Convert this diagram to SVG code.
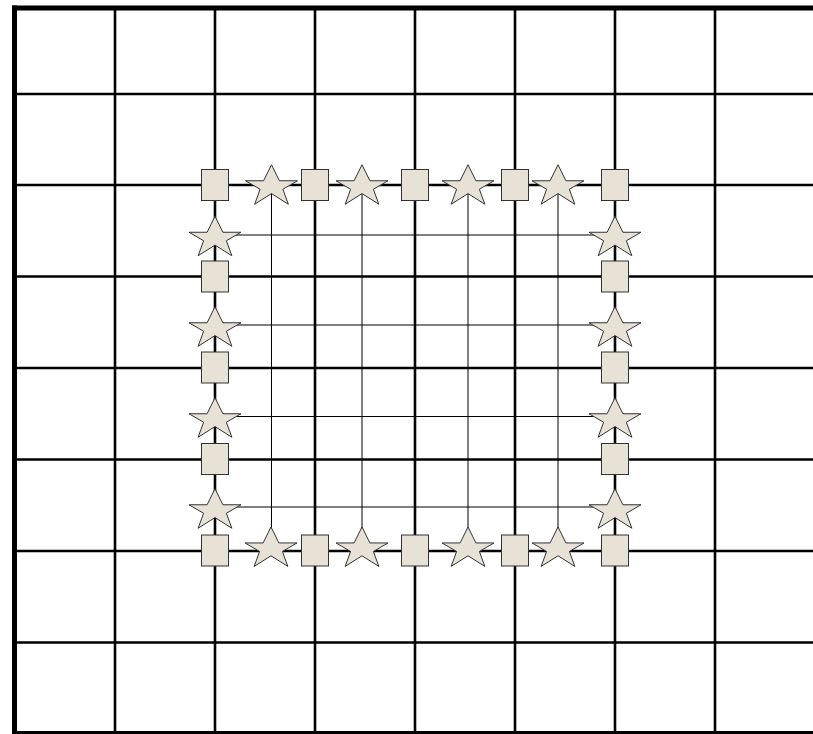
<svg xmlns="http://www.w3.org/2000/svg" xmlns:xlink="http://www.w3.org/1999/xlink" width="813" height="734" viewBox="0 0 813 734">
<style>
.grid{stroke:#000;stroke-width:2.6;fill:none}
.border{stroke:#000;stroke-width:5;fill:none}
.thin{stroke:#000;stroke-width:1;fill:none}
.node{fill:#E8E2D6;stroke:#333;stroke-width:1}
</style>
<defs>
<path id="star" d="M-26,-3.75 L-7.9,-3.75 L0,-19.75 L7.9,-3.75 L26,-3.75 L11.39,4.74 L16.85,19.75 L0,9.09 L-16.85,19.75 L-11.39,4.74 Z"/>
<rect id="sq" x="-13.5" y="-15.5" width="27" height="31"/>
</defs>
<rect width="813" height="734" fill="#fff"/>
<g id="grid">
<line class="grid" x1="115" y1="8" x2="115" y2="734"/>
<line class="grid" x1="215" y1="8" x2="215" y2="734"/>
<line class="grid" x1="315" y1="8" x2="315" y2="734"/>
<line class="grid" x1="415" y1="8" x2="415" y2="734"/>
<line class="grid" x1="515" y1="8" x2="515" y2="734"/>
<line class="grid" x1="615" y1="8" x2="615" y2="734"/>
<line class="grid" x1="715" y1="8" x2="715" y2="734"/>
<line class="grid" x1="15" y1="94" x2="813" y2="94"/>
<line class="grid" x1="15" y1="185" x2="813" y2="185"/>
<line class="grid" x1="15" y1="276.5" x2="813" y2="276.5"/>
<line class="grid" x1="15" y1="368" x2="813" y2="368"/>
<line class="grid" x1="15" y1="459.5" x2="813" y2="459.5"/>
<line class="grid" x1="15" y1="551" x2="813" y2="551"/>
<line class="grid" x1="15" y1="642.5" x2="813" y2="642.5"/>
<line class="border" x1="12" y1="8" x2="813" y2="8"/>
<line class="border" x1="14.5" y1="5.5" x2="14.5" y2="734"/>
<line class="border" x1="12" y1="733.5" x2="813" y2="733.5"/>
</g>
<g id="connectors">
<line class="thin" x1="271.5" y1="185" x2="271.5" y2="547"/>
<line class="thin" x1="362" y1="185" x2="362" y2="547"/>
<line class="thin" x1="468" y1="185" x2="468" y2="547"/>
<line class="thin" x1="558" y1="185" x2="558" y2="547"/>
<line class="thin" x1="215" y1="235" x2="615" y2="235"/>
<line class="thin" x1="215" y1="325" x2="615" y2="325"/>
<line class="thin" x1="215" y1="416.5" x2="615" y2="416.5"/>
<line class="thin" x1="215" y1="507" x2="615" y2="507"/>
</g>
<g id="sq-t1" class="node"><use xlink:href="#sq" x="215" y="185"/></g>
<g id="sq-t2" class="node"><use xlink:href="#sq" x="315" y="185"/></g>
<g id="sq-t3" class="node"><use xlink:href="#sq" x="415" y="185"/></g>
<g id="sq-t4" class="node"><use xlink:href="#sq" x="515" y="185"/></g>
<g id="sq-t5" class="node"><use xlink:href="#sq" x="615" y="185"/></g>
<g id="sq-b1" class="node"><use xlink:href="#sq" x="215" y="550.5"/></g>
<g id="sq-b2" class="node"><use xlink:href="#sq" x="315" y="550.5"/></g>
<g id="sq-b3" class="node"><use xlink:href="#sq" x="415" y="550.5"/></g>
<g id="sq-b4" class="node"><use xlink:href="#sq" x="515" y="550.5"/></g>
<g id="sq-b5" class="node"><use xlink:href="#sq" x="615" y="550.5"/></g>
<g id="sq-l1" class="node"><use xlink:href="#sq" x="215" y="276.5"/></g>
<g id="sq-l2" class="node"><use xlink:href="#sq" x="215" y="367.5"/></g>
<g id="sq-l3" class="node"><use xlink:href="#sq" x="215" y="459"/></g>
<g id="sq-r1" class="node"><use xlink:href="#sq" x="615" y="276.5"/></g>
<g id="sq-r2" class="node"><use xlink:href="#sq" x="615" y="367.5"/></g>
<g id="sq-r3" class="node"><use xlink:href="#sq" x="615" y="459"/></g>
<g id="st-t1" class="node"><use xlink:href="#star" x="271.5" y="184.5"/></g>
<g id="st-t2" class="node"><use xlink:href="#star" x="362" y="184.5"/></g>
<g id="st-t3" class="node"><use xlink:href="#star" x="468" y="184.5"/></g>
<g id="st-t4" class="node"><use xlink:href="#star" x="558" y="184.5"/></g>
<g id="st-b1" class="node"><use xlink:href="#star" x="271" y="546.7"/></g>
<g id="st-b2" class="node"><use xlink:href="#star" x="362" y="546.7"/></g>
<g id="st-b3" class="node"><use xlink:href="#star" x="468" y="546.7"/></g>
<g id="st-b4" class="node"><use xlink:href="#star" x="558" y="546.7"/></g>
<g id="st-l1" class="node"><use xlink:href="#star" x="215" y="236"/></g>
<g id="st-l2" class="node"><use xlink:href="#star" x="215" y="326.5"/></g>
<g id="st-l3" class="node"><use xlink:href="#star" x="215" y="417.5"/></g>
<g id="st-l4" class="node"><use xlink:href="#star" x="215" y="508.5"/></g>
<g id="st-r1" class="node"><use xlink:href="#star" x="615" y="236"/></g>
<g id="st-r2" class="node"><use xlink:href="#star" x="615" y="326.5"/></g>
<g id="st-r3" class="node"><use xlink:href="#star" x="615" y="417.5"/></g>
<g id="st-r4" class="node"><use xlink:href="#star" x="615" y="508.5"/></g>
</svg>
